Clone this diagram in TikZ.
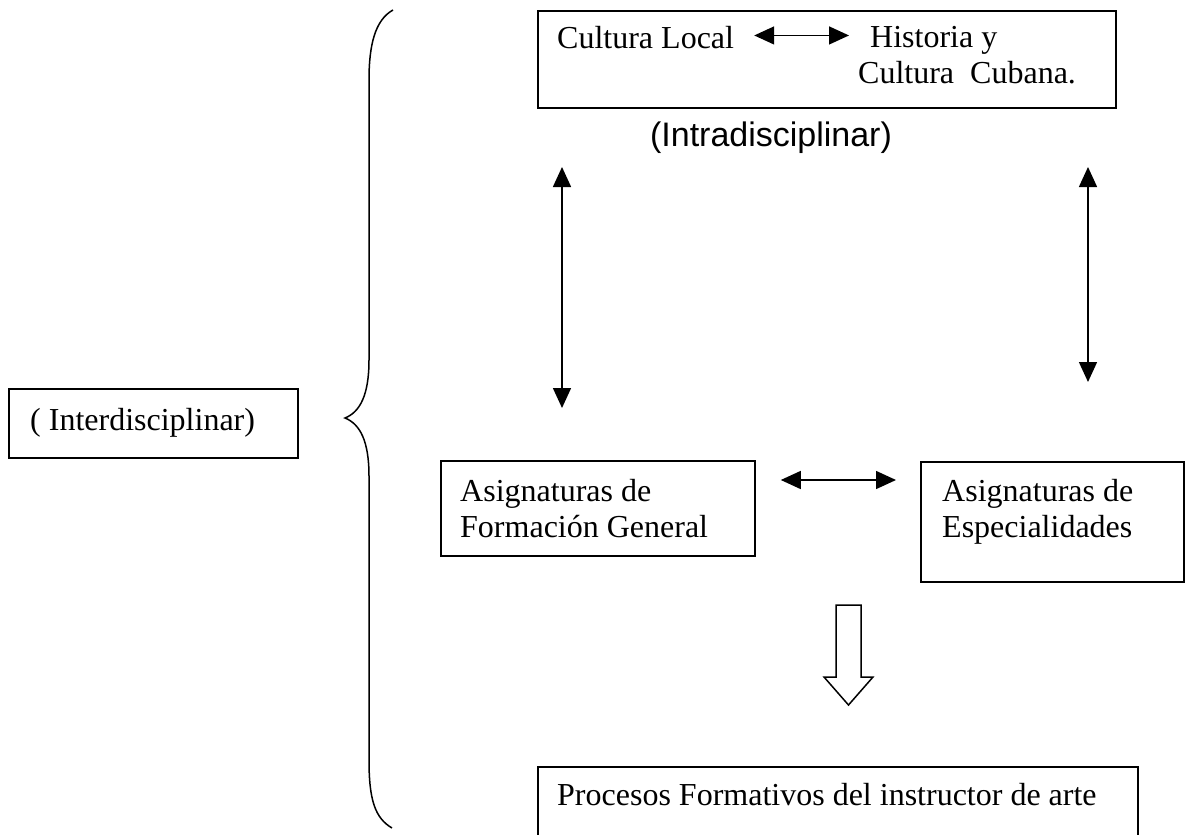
\documentclass[tikz,border=0pt]{standalone}
\usepackage{fontspec}
\setmainfont{Liberation Serif}
\newfontfamily\arialfont{Liberation Sans}
\usetikzlibrary{arrows.meta}

\begin{document}
\begin{tikzpicture}[x=1pt,y=-1pt,
    box/.style={draw, line width=1.8pt, anchor=north west, inner sep=0pt},
    txt/.style={anchor=north west, inner sep=0pt, align=left, font=\fontsize{32}{36}\selectfont},
    dbl/.style={{Triangle[length=20pt,width=18pt]}-{Triangle[length=20pt,width=18pt]}, line width=1.5pt}]
    \useasboundingbox (0,0) rectangle (1187,835);

    % Define the positions of the free arrow ends
    \coordinate (leftTop) at (562,167);
    \coordinate (leftBot) at (562,408);
    \coordinate (rightTop) at (1088,167);
    \coordinate (rightBot) at (1088,382);

    % Draw the boxes
    \node[box, minimum width=578pt, minimum height=97pt] (topBox) at (537,10) {};
    \node[box, minimum width=289pt, minimum height=69pt] (interBox) at (8,388) {};
    \node[box, minimum width=314pt, minimum height=95pt] (genBox) at (440,460) {};
    \node[box, minimum width=263pt, minimum height=120pt] (espBox) at (920,461) {};
    \node[box, minimum width=600pt, minimum height=100pt] (procBox) at (537,766) {};

    % Draw the labels
    \node[txt] (local) at (557,26) {Cultura Local};
    \node[txt] (hist) at (858,26) {\hspace{12pt}Historia y\\Cultura\ \ Cubana.};
    \node[anchor=base, inner sep=0pt, font=\arialfont\fontsize{34}{40}\selectfont] (intra) at (771,146) {(Intradisciplinar)};
    \node[txt] (inter) at (30,408) {( Interdisciplinar)};
    \node[txt] (gen) at (460,479) {Asignaturas de\\Formación General};
    \node[txt] (esp) at (942,479) {Asignaturas de\\Especialidades};
    \node[txt] (proc) at (557,783) {Procesos Formativos del instructor de arte};

    % Draw the arrows
    \draw[dbl] ([xshift=20pt,yshift=2pt]local.east) -- ([xshift=-9pt,yshift=2pt]local.east -| hist.west);
    \draw[dbl] (leftTop) -- (leftBot);
    \draw[dbl] (rightTop) -- (rightBot);
    \draw[dbl] ([shift={(25pt,-20pt)}]genBox.north east) -- ([shift={(-24pt,-19pt)}]espBox.north west);

    % hollow arrow down to the last box
    \draw[line width=1.5pt] (836,605) -- (861,605) -- (861,677) -- (873,677) -- (848.5,705) -- (824,677) -- (836,677) -- cycle;

    % the brace
    \draw[line width=1.5pt] (393,10) .. controls (375,20) and (369,45) .. (369,80) -- (369,360)
        .. controls (369,395) and (360,412) .. (345,418)
        .. controls (360,424) and (369,441) .. (369,476) -- (369,760)
        .. controls (369,800) and (375,818) .. (392,828);
\end{tikzpicture}
\end{document}
